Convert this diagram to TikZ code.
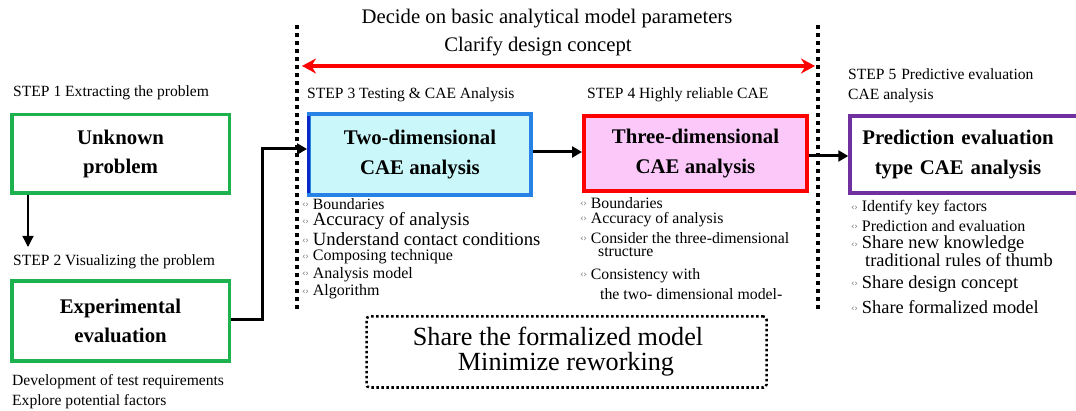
\documentclass[tikz,border=0pt]{standalone}
\usepackage{fontspec}
\setmainfont{Liberation Serif}
\newfontfamily\marksfont{DejaVu Sans}
\usetikzlibrary{arrows.meta}
\definecolor{boxgreen}{RGB}{30,178,78}
\definecolor{boxpurple}{RGB}{112,48,160}
\definecolor{boxblue}{RGB}{40,130,230}
\definecolor{darkblue}{RGB}{10,40,200}
\definecolor{cyanfill}{RGB}{202,248,250}
\definecolor{pinkfill}{RGB}{252,200,250}
\definecolor{bulletgray}{RGB}{125,125,125}
\newcommand{\fsz}[1]{\fontsize{#1}{#1}\selectfont}
\newcommand{\bmark}{\raisebox{1.5pt}{\color{bulletgray}\marksfont\fsz{9}‹\hspace{-0.5pt}›}\hspace{4pt}}
\tikzset{
  lbl/.style={inner sep=0pt, anchor=west, font=\fsz{15.6}},
  blt/.style={inner sep=0pt, anchor=west},
  stagebox/.style={draw, line width=3.5pt, inner sep=0pt, align=center,
    font=\bfseries\fsz{20.8}\linespread{1.4}\selectfont},
  dotline/.style={line width=4pt, dash pattern=on 4pt off 4pt},
  flow/.style={line width=3pt, -{Triangle[length=10pt,width=11pt]}},
}
\begin{document}
\begin{tikzpicture}[x=1pt,y=-1pt]
\useasboundingbox (0,0) rectangle (1076,411);

% heading above the analysis stages
\node[inner sep=0pt, font=\fsz{20.7}] (head1) at (547,19) {Decide on basic analytical model parameters};
\node[inner sep=0pt, font=\fsz{20.7}] (head2) at (538,46) {Clarify design concept};

% dotted borders of the CAE analysis stages
\coordinate (dl1) at (297,25);
\coordinate (dl2) at (297,309);
\coordinate (dr1) at (818,25);
\coordinate (dr2) at (818,309);
\draw[dotline] (dl1) -- (dl2);
\draw[dotline] (dr1) -- (dr2);

% red span arrow
\coordinate (sp1) at (302,66);
\coordinate (sp2) at (815,66);
\draw[red, line width=3.5pt, {Stealth[length=14pt,width=15pt]}-{Stealth[length=14pt,width=15pt]}] (sp1) -- (sp2);

% step 1 and 2
\node[lbl] (s1) at (13,93) {STEP 1 Extracting the problem};
\node[stagebox, draw=boxgreen, minimum width=217.5pt, minimum height=78.5pt] (unk) at (120.5,154) {Unknown\\problem};
\node[lbl] (s2) at (13,262) {STEP 2 Visualizing the problem};
\node[stagebox, draw=boxgreen, minimum width=217.5pt, minimum height=80pt] (exp) at (120.5,321) {Experimental\\evaluation};
\node[lbl] (d1) at (12,382) {Development of test requirements};
\node[lbl] (d2) at (12,402) {Explore potential factors};

\coordinate (dn) at (28,247);
\draw[line width=1.2pt, -{Triangle[length=11pt,width=11pt]}] (unk.south -| dn) -- (dn);

% step 3
\node[lbl] (s3) at (307,95) {STEP 3 Testing \& CAE Analysis};
\node[stagebox, draw=boxblue, fill=cyanfill, line width=4pt, minimum width=222pt, minimum height=81pt] (two) at (420,154.5) {Two-dimensional\\CAE analysis};
\draw[darkblue, line width=3pt] ([xshift=1pt,yshift=-4pt]two.north west) -- ([xshift=1pt,yshift=4pt]two.south west);

\coordinate (bend) at (262,149);
\draw[flow] (exp.east |- 0,320) -- (bend |- 0,320) -- (bend) -- (two.west |- bend);

\node[blt, font=\fsz{15.7}] (t1) at (302,204) {\bmark Boundaries};
\node[blt, font=\fsz{18.7}] (t2) at (302,221) {\bmark Accuracy of analysis};
\node[blt, font=\fsz{18.7}] (t3) at (302,239) {\bmark Understand contact conditions};
\node[blt, font=\fsz{16}] (t4) at (302,257) {\bmark Composing technique};
\node[blt, font=\fsz{16}] (t5) at (302,274.5) {\bmark Analysis model};
\node[blt, font=\fsz{16}] (t6) at (302,292) {\bmark Algorithm};

% step 4
\node[lbl] (s4) at (587,95) {STEP 4 Highly reliable CAE};
\node[stagebox, draw=red, fill=pinkfill, line width=4pt, minimum width=223pt, minimum height=75pt] (three) at (695.5,153.5) {Three-dimensional\\CAE analysis};
\draw[flow] (two.east |- 0,152) -- (three.west |- 0,152);

\node[blt, font=\fsz{15.8}] (h1) at (580,203) {\bmark Boundaries};
\node[blt, font=\fsz{15.8}] (h2) at (580,219.5) {\bmark Accuracy of analysis};
\node[blt, font=\fsz{15.8}, align=left, anchor=north west] (h3) at (580,232) {\bmark Consider the three-dimensional\\[-2pt]\hspace{18pt}structure};
\node[blt, font=\fsz{15.8}, align=left, anchor=north west] (h4) at (580,268) {\bmark Consistency with\\[5pt]\hspace{20pt}the two- dimensional model-};

% step 5
\node[lbl] (s5a) at (848,74) {STEP 5\hspace{5pt}Predictive evaluation};
\node[lbl] (s5b) at (848,96) {CAE analysis};
\node[stagebox, draw=boxpurple, minimum width=240pt, minimum height=77pt, text width=230pt] (pred) at (970,154.5) {\hspace*{-24pt}Prediction evaluation\\\hspace*{-24pt}type CAE analysis};
\draw[flow] (three.east |- 0,156) -- (pred.west |- 0,156);

\node[blt, font=\fsz{16}] (p1) at (851,208) {\bmark Identify key factors};
\node[blt, font=\fsz{16}] (p2) at (851,226) {\bmark Prediction and evaluation};
\node[blt, font=\fsz{18.4}, align=left, anchor=north west] (p3) at (851,236) {\bmark Share new knowledge\\[-1pt]\hspace{14pt}traditional rules of thumb};
\node[blt, font=\fsz{18.4}] (p4) at (851,284) {\bmark Share design concept};
\node[blt, font=\fsz{18.4}] (p5) at (851,307) {\bmark Share formalized model};

% shared outcome
\node[draw, line width=2.5pt, dash pattern=on 2.5pt off 2.5pt, rounded corners=3pt,
  minimum width=400pt, minimum height=71pt, inner sep=0pt] (share) at (566.5,352) {};
\node[inner sep=0pt, font=\fsz{26.2}] (sh1) at (558,336) {Share the formalized model};
\node[inner sep=0pt, font=\fsz{26.2}] (sh2) at (566,364) {Minimize reworking};
\end{tikzpicture}
\end{document}
